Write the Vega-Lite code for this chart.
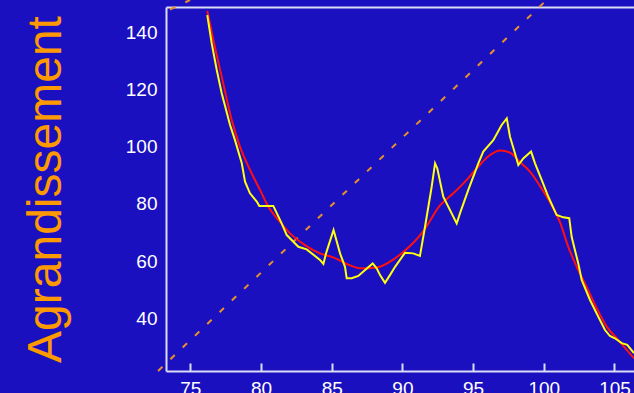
{
  "$schema": "https://vega.github.io/schema/vega-lite/v6.json",
  "width": 468,
  "height": 364,
  "autosize": {"type": "none"},
  "padding": {"left": 166, "top": 7, "right": 0, "bottom": 22},
  "background": "#1a10c0",
  "config": {
    "view": {"stroke": null},
    "axis": {
      "grid": false,
      "domainColor": "#dcdcf5",
      "domainWidth": 2,
      "tickColor": "#dcdcf5",
      "tickWidth": 2,
      "labelColor": "#ffffff",
      "labelFont": "Liberation Sans",
      "labelFontSize": 19
    }
  },
  "datasets": {
    "diag": [
      {"seg": "a", "x": 72.72, "y": 21.6},
      {"seg": "a", "x": 100.2, "y": 151.3},
      {"seg": "b", "x": 73.56, "y": 147.97},
      {"seg": "b", "x": 74.98, "y": 151.3}
    ],
    "red": [
      {"x": 76.2, "y": 147.5}, {"x": 76.63, "y": 137.3}, {"x": 77.22, "y": 124.5}, {"x": 77.93, "y": 109.3},
      {"x": 78.51, "y": 100.0}, {"x": 79.22, "y": 91.9}, {"x": 79.93, "y": 84.9}, {"x": 80.52, "y": 79.0},
      {"x": 81.22, "y": 74.4}, {"x": 82.05, "y": 69.7}, {"x": 83.11, "y": 65.6}, {"x": 84.17, "y": 62.7},
      {"x": 85.11, "y": 61.3}, {"x": 86.06, "y": 59.0}, {"x": 87.0, "y": 57.5}, {"x": 88.18, "y": 57.8},
      {"x": 89.12, "y": 59.8}, {"x": 90.06, "y": 63.2}, {"x": 90.77, "y": 66.4}, {"x": 91.48, "y": 70.5},
      {"x": 92.66, "y": 79.5}, {"x": 93.6, "y": 83.7}, {"x": 94.55, "y": 88.4}, {"x": 95.25, "y": 92.4},
      {"x": 96.2, "y": 97.1}, {"x": 96.9, "y": 98.7}, {"x": 97.61, "y": 97.9}, {"x": 98.32, "y": 94.6},
      {"x": 99.02, "y": 91.3}, {"x": 99.96, "y": 84.5}, {"x": 100.56, "y": 79.5}, {"x": 101.15, "y": 73.5},
      {"x": 101.73, "y": 65.0}, {"x": 102.33, "y": 58.0}, {"x": 103.03, "y": 51.0}, {"x": 103.74, "y": 43.5},
      {"x": 104.45, "y": 37.1}, {"x": 105.27, "y": 32.4}, {"x": 106.38, "y": 26.0}
    ],
    "yellow": [
      {"x": 76.2, "y": 146.0}, {"x": 76.51, "y": 136.2}, {"x": 76.87, "y": 126.8}, {"x": 77.22, "y": 118.7},
      {"x": 77.81, "y": 107.6}, {"x": 78.16, "y": 102.3}, {"x": 78.64, "y": 94.2}, {"x": 78.87, "y": 87.8},
      {"x": 79.22, "y": 83.7}, {"x": 79.7, "y": 80.8}, {"x": 79.88, "y": 79.3}, {"x": 80.87, "y": 79.3},
      {"x": 81.46, "y": 73.2}, {"x": 81.82, "y": 69.1}, {"x": 82.64, "y": 65.0}, {"x": 83.23, "y": 64.1},
      {"x": 84.17, "y": 60.4}, {"x": 84.41, "y": 59.0}, {"x": 84.6, "y": 62.7}, {"x": 85.13, "y": 70.9},
      {"x": 85.59, "y": 62.7}, {"x": 85.94, "y": 58.0}, {"x": 86.06, "y": 54.0}, {"x": 86.41, "y": 54.0},
      {"x": 86.88, "y": 54.8}, {"x": 87.36, "y": 56.9}, {"x": 87.9, "y": 59.2}, {"x": 88.18, "y": 57.5},
      {"x": 88.42, "y": 55.1}, {"x": 88.77, "y": 52.4}, {"x": 89.12, "y": 55.1}, {"x": 89.48, "y": 58.0},
      {"x": 90.18, "y": 62.9}, {"x": 90.77, "y": 62.7}, {"x": 91.24, "y": 61.8}, {"x": 91.6, "y": 72.0},
      {"x": 92.07, "y": 86.0}, {"x": 92.31, "y": 94.2}, {"x": 92.47, "y": 92.4}, {"x": 92.89, "y": 82.5},
      {"x": 93.84, "y": 73.2}, {"x": 94.07, "y": 76.7}, {"x": 94.66, "y": 84.9}, {"x": 95.37, "y": 94.2},
      {"x": 95.72, "y": 98.3}, {"x": 96.43, "y": 102.3}, {"x": 97.02, "y": 107.6}, {"x": 97.38, "y": 109.9},
      {"x": 97.61, "y": 103.5}, {"x": 97.96, "y": 97.7}, {"x": 98.2, "y": 93.6}, {"x": 98.55, "y": 95.9},
      {"x": 99.1, "y": 98.3}, {"x": 99.38, "y": 94.2}, {"x": 99.85, "y": 88.4}, {"x": 100.32, "y": 82.5},
      {"x": 100.91, "y": 76.1}, {"x": 101.38, "y": 75.3}, {"x": 101.8, "y": 75.0}, {"x": 101.97, "y": 68.5},
      {"x": 102.2, "y": 63.9}, {"x": 102.44, "y": 59.2}, {"x": 102.68, "y": 53.4}, {"x": 103.27, "y": 46.4},
      {"x": 103.85, "y": 40.6}, {"x": 104.33, "y": 35.9}, {"x": 104.68, "y": 33.8}, {"x": 105.03, "y": 33.0},
      {"x": 105.51, "y": 31.3}, {"x": 105.9, "y": 30.7}, {"x": 106.38, "y": 27.8}
    ]
  },
  "layer": [
    {
      "data": {"name": "diag"},
      "mark": {"type": "line", "clip": false, "color": "#e8902a", "strokeWidth": 2, "strokeDash": [6, 11]},
      "encoding": {
        "x": {"field": "x", "type": "quantitative", "scale": {"domain": [73.28, 106.38], "nice": false, "zero": false}, "axis": null},
        "y": {"field": "y", "type": "quantitative", "scale": {"domain": [21.57, 148.85], "nice": false, "zero": false},
              "axis": {"values": [40, 60, 80, 100, 120, 140], "ticks": false, "labelPadding": 9, "title": "Agrandissement", "titleColor": "#ff9900", "titleFont": "Liberation Sans", "titleFontSize": 48, "titleFontWeight": "normal", "titlePadding": 55}},
        "detail": {"field": "seg"}
      }
    },
    {
      "data": {"name": "red"},
      "mark": {"type": "line", "clip": true, "color": "#ff1010", "strokeWidth": 2, "interpolate": "monotone"},
      "encoding": {
        "x": {"field": "x", "type": "quantitative", "scale": {"domain": [73.28, 106.38], "nice": false, "zero": false},
              "axis": {"orient": "bottom", "values": [75, 80, 85, 90, 95, 100, 105], "tickSize": -8, "labelPadding": 16, "title": null}},
        "y": {"field": "y", "type": "quantitative", "scale": {"domain": [21.57, 148.85], "nice": false, "zero": false},
              "axis": {"values": [40, 60, 80, 100, 120, 140], "ticks": false, "labelPadding": 9, "title": "Agrandissement", "titleColor": "#ff9900", "titleFont": "Liberation Sans", "titleFontSize": 48, "titleFontWeight": "normal", "titlePadding": 55}}
      }
    },
    {
      "data": {"name": "yellow"},
      "mark": {"type": "line", "clip": true, "color": "#ffff10", "strokeWidth": 2},
      "encoding": {
        "x": {"field": "x", "type": "quantitative", "scale": {"domain": [73.28, 106.38], "nice": false, "zero": false},
              "axis": {"orient": "top", "labels": false, "ticks": false, "title": null}},
        "y": {"field": "y", "type": "quantitative", "scale": {"domain": [21.57, 148.85], "nice": false, "zero": false},
              "axis": {"values": [40, 60, 80, 100, 120, 140], "ticks": false, "labelPadding": 9, "title": "Agrandissement", "titleColor": "#ff9900", "titleFont": "Liberation Sans", "titleFontSize": 48, "titleFontWeight": "normal", "titlePadding": 55}}
      }
    }
  ],
  "resolve": {"axis": {"x": "independent"}}
}
